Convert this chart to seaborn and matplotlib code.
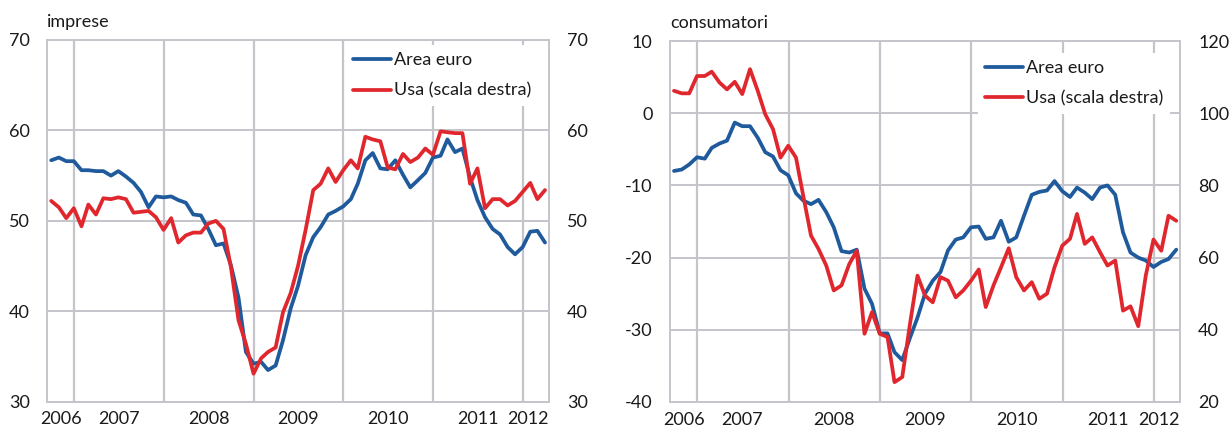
import numpy as np
import pandas as pd
import matplotlib
matplotlib.use('Agg')
import matplotlib.pyplot as plt
import seaborn as sns

# ---------------- data (monthly, Sep 2006 - Mar 2012) ----------------
months = pd.date_range('2006-09-30', '2012-03-31', freq='ME')

imprese_area_euro = [56.7, 57.0, 56.6, 56.6, 55.6, 55.6, 55.5, 55.5, 55.0, 55.5,
                     54.9, 54.2, 53.2, 51.5, 52.7, 52.6, 52.7, 52.3, 52.0, 50.7,
                     50.6, 49.1, 47.3, 47.5, 45.1, 41.5, 35.5, 34.2, 34.4, 33.5,
                     34.0, 36.8, 40.3, 42.8, 46.2, 48.2, 49.3, 50.7, 51.1, 51.6,
                     52.4, 54.1, 56.7, 57.5, 55.8, 55.7, 56.7, 55.1, 53.7, 54.5,
                     55.3, 57.0, 57.2, 59.0, 57.6, 58.0, 54.8, 52.3, 50.4, 49.1,
                     48.5, 47.1, 46.3, 47.1, 48.8, 48.9, 47.6]
imprese_usa = [52.2, 51.5, 50.3, 51.4, 49.4, 51.8, 50.7, 52.5, 52.4, 52.6,
               52.4, 50.9, 51.0, 51.1, 50.4, 49.0, 50.3, 47.6, 48.4, 48.7,
               48.7, 49.7, 50.0, 49.1, 44.9, 39.0, 36.4, 33.1, 34.8, 35.5,
               36.0, 39.9, 42.0, 45.0, 49.0, 53.4, 54.1, 55.8, 54.3, 55.6,
               56.7, 55.8, 59.3, 59.0, 58.8, 55.9, 55.7, 57.4, 56.5, 57.0,
               58.0, 57.3, 59.9, 59.8, 59.7, 59.7, 54.1, 55.8, 51.4, 52.4,
               52.4, 51.7, 52.2, 53.2, 54.2, 52.4, 53.4]
consumatori_area_euro = [-8.0, -7.8, -7.1, -6.1, -6.3, -4.8, -4.2, -3.8, -1.3, -1.8,
                         -1.8, -3.4, -5.4, -6.0, -7.9, -8.6, -11.1, -12.1, -12.6, -12.0,
                         -13.7, -15.8, -19.1, -19.3, -18.9, -24.3, -26.4, -30.5, -30.5, -33.1,
                         -34.2, -31.2, -28.3, -25.0, -23.2, -22.0, -19.0, -17.5, -17.2, -15.8,
                         -15.7, -17.4, -17.2, -14.9, -17.8, -17.2, -14.2, -11.3, -10.9, -10.7,
                         -9.4, -10.8, -11.6, -10.3, -11.0, -11.9, -10.3, -10.0, -11.3, -16.5,
                         -19.3, -20.0, -20.4, -21.3, -20.6, -20.2, -18.9]
consumatori_usa = [106.2, 105.5, 105.5, 110.3, 110.3, 111.5, 108.5, 106.6, 108.7, 105.3,
                   112.2, 106.2, 99.7, 95.6, 87.7, 91.0, 87.7, 77.1, 66.1, 62.4,
                   57.8, 50.9, 52.3, 58.2, 61.9, 38.9, 44.9, 38.9, 38.0, 25.5,
                   26.9, 41.2, 55.0, 49.5, 47.6, 54.6, 53.6, 49.0, 50.9, 53.6,
                   56.7, 46.3, 52.3, 57.3, 62.6, 54.6, 50.9, 53.2, 48.6, 50.0,
                   57.3, 63.3, 65.2, 72.1, 63.8, 65.6, 61.5, 57.8, 59.2, 45.3,
                   46.5, 41.0, 55.0, 65.0, 61.9, 71.6, 70.2]

year_labels = ['2006', '2007', '2008', '2009', '2010', '2011', '2012']
series_labels = ['Area euro', 'Usa (scala destra)']
panel_titles = ['imprese', 'consumatori']
imprese_ticks_left = [30, 40, 50, 60, 70]
imprese_ticks_right = [30, 40, 50, 60, 70]
consumatori_ticks_left = [-40, -30, -20, -10, 0, 10]
consumatori_ticks_right = [20, 40, 60, 80, 100, 120]

for arr in (imprese_area_euro, imprese_usa, consumatori_area_euro, consumatori_usa):
    assert len(arr) == len(months), len(arr)

# ---------------- style ----------------
BLUE = '#1f5a9c'
RED = '#e1272e'
GRID = '#c4c4ca'
TXT = '#1a1a1a'
FS = 13

sns.set_theme(style='white')
plt.rcParams['font.family'] = ['Lato', 'DejaVu Sans']
plt.rcParams['axes.unicode_minus'] = False

fig = plt.figure(figsize=(12.32, 4.29), dpi=100)
W, H = 1232, 429
axL = fig.add_axes([47.3 / W, 1 - 401.7 / H, 501.4 / W, 361.7 / H])
axR = fig.add_axes([670 / W, 1 - 402 / H, 510 / W, 361 / H])

xmin = pd.Timestamp('2006-09-14')
xmax = pd.Timestamp('2012-04-15')
year_starts = pd.date_range('2007-01-01', '2012-01-01', freq='YS')
label_pos = ([xmin + (year_starts[0] - xmin) / 2]
             + [pd.Timestamp(f'{y}-07-01') for y in range(2007, 2012)]
             + [xmax])


def panel(ax, title, euro, usa, lticks, rticks, leg_anchor):
    df = pd.DataFrame({'month': months, 'euro': euro, 'usa': usa})
    ax2 = ax.twinx()
    sns.lineplot(data=df, x='month', y='euro', ax=ax, color=BLUE, lw=2.7,
                 legend=False)
    h1 = ax.lines[-1]
    sns.lineplot(data=df, x='month', y='usa', ax=ax2, color=RED, lw=2.7,
                 legend=False)
    h2 = ax2.lines[-1]

    ax.set_xlabel('')
    ax.set_ylabel('')
    ax2.set_ylabel('')

    ax.set_ylim(lticks[0], lticks[-1])
    ax.set_yticks(lticks)
    ax2.set_ylim(rticks[0], rticks[-1])
    ax2.set_yticks(rticks)
    ax.tick_params(axis='y', length=0, pad=12.5, labelsize=FS, labelcolor=TXT)
    ax2.tick_params(axis='y', length=0, pad=13, labelsize=FS, labelcolor=TXT)

    ax.set_xlim(xmin, xmax)
    ax.set_xticks(label_pos)
    ax.set_xticklabels(year_labels)
    ax.set_xticks(months + pd.Timedelta(days=1), minor=True)
    ax.tick_params(axis='x', which='major', direction='in', length=10,
                   width=1.3, color=GRID, pad=7, labelsize=FS, labelcolor=TXT)
    ax.tick_params(axis='x', which='minor', direction='in', length=3.5,
                   width=1.2, color=GRID)
    ticks = ax.xaxis.get_major_ticks()
    ticks[0].tick1line.set_visible(False)
    ticks[-1].tick1line.set_visible(False)
    ticks[-1].label1.set_horizontalalignment('right')

    ax.grid(False)
    ax.grid(True, axis='y', color=GRID, lw=1.4)
    for ys in year_starts:
        ax.axvline(ys, color=GRID, lw=1.6, zorder=0.5)
    ax.set_axisbelow(True)

    for s in ax.spines.values():
        s.set_visible(True)
        s.set_color(GRID)
        s.set_linewidth(1.4)
    for s in ax2.spines.values():
        s.set_visible(False)
    ax2.grid(False)

    ax.set_title(title, loc='left', pad=9, fontsize=FS, color=TXT)

    ax2.legend([h1, h2], series_labels, loc='upper left',
               bbox_to_anchor=leg_anchor, frameon=True, facecolor='white',
               edgecolor='none', framealpha=1, fancybox=False,
               fontsize=FS, handlelength=2.1, handletextpad=0.15,
               labelspacing=0.8, borderaxespad=0, borderpad=0.4,
               labelcolor=TXT)


panel(axL, panel_titles[0], imprese_area_euro, imprese_usa,
      imprese_ticks_left, imprese_ticks_right, (0.596, 0.986))
panel(axR, panel_titles[1], consumatori_area_euro, consumatori_usa,
      consumatori_ticks_left, consumatori_ticks_right, (0.604, 0.967))

fig.savefig('out.png', dpi=100)
